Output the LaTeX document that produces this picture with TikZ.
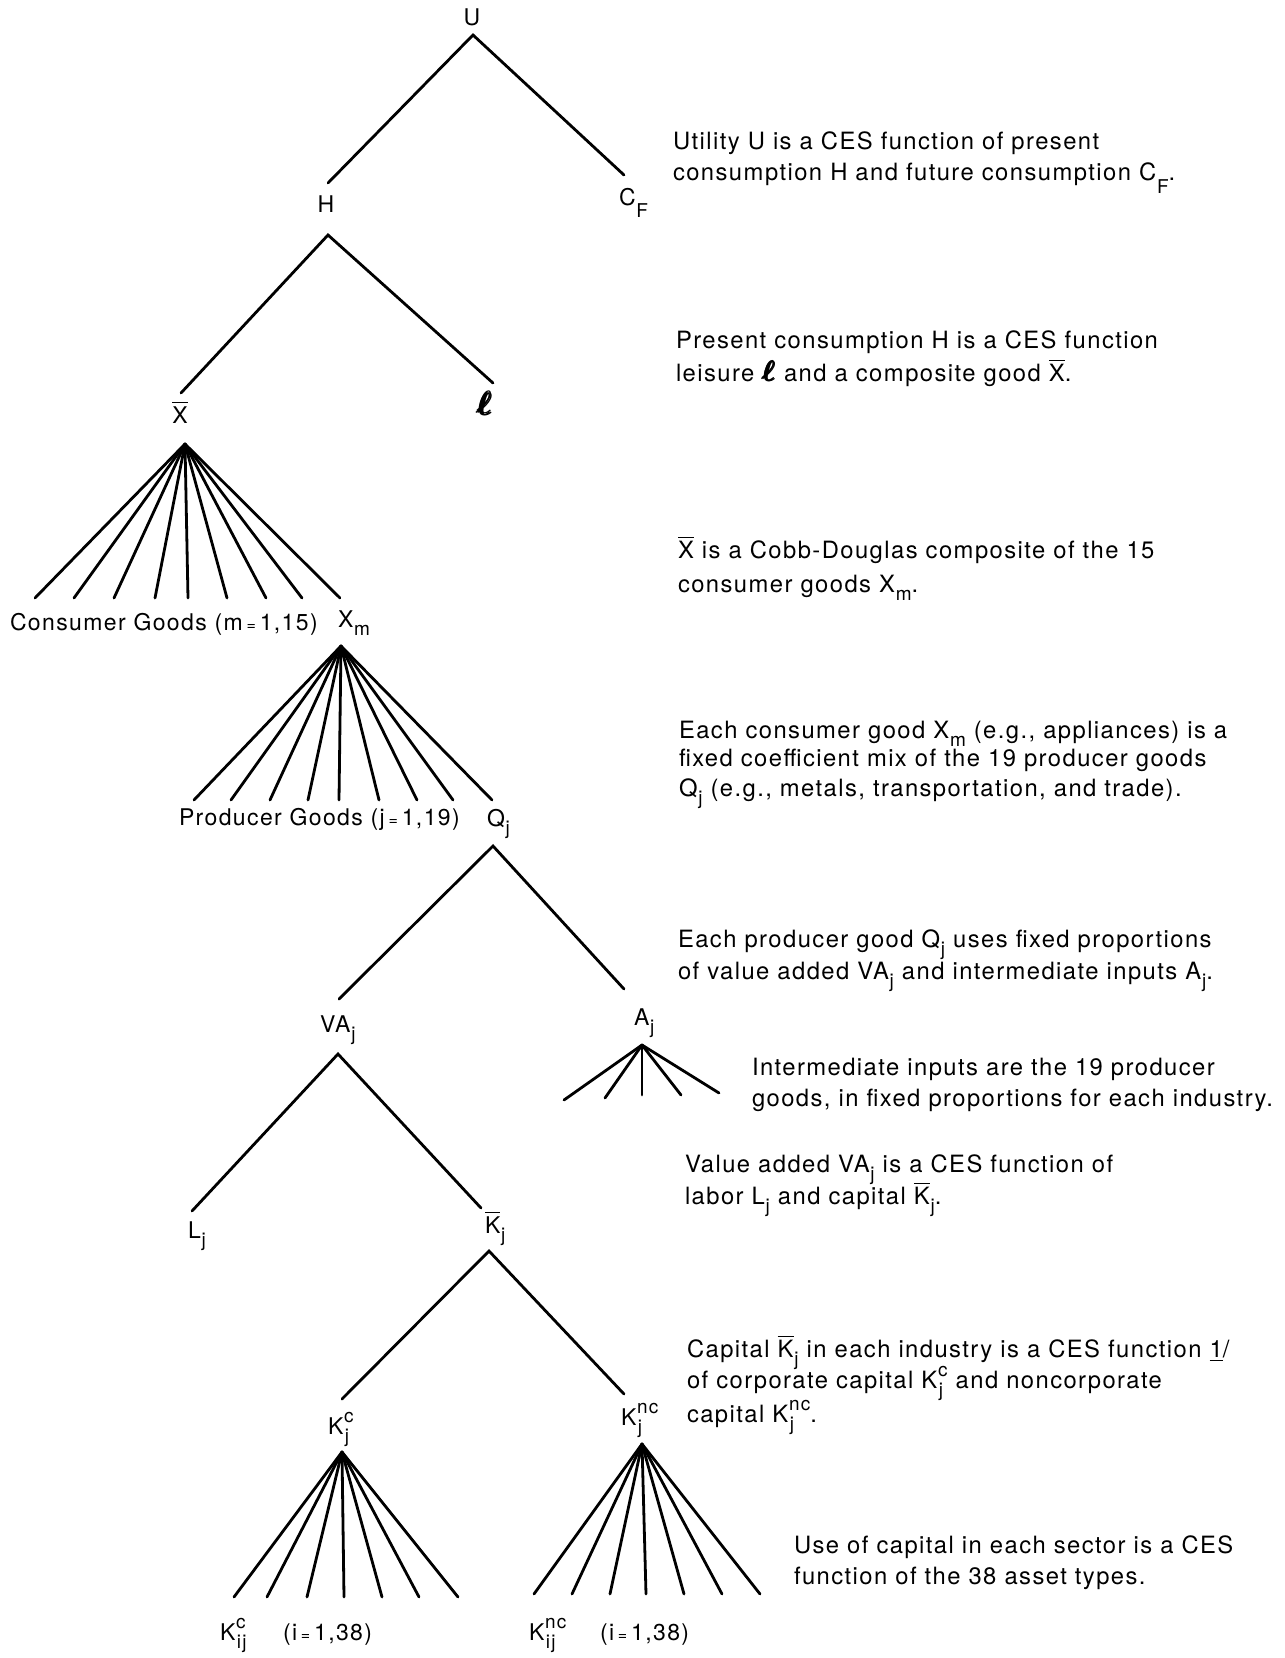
\documentclass[tikz,border=0pt]{standalone}
\usepackage{amsmath}
\usepackage{graphicx}
\usepackage{fontspec}
\setmainfont{TeX Gyre Heros}[LetterSpace=6.0]
\newsavebox\SupBox \newsavebox\SubBox \newlength\SSlen
\newcommand\fs{\fontsize{23}{31.5}\selectfont}
\newcommand\fp{\fontsize{23.8}{31.5}\selectfont}
\newcommand\subsz{\fontsize{19}{19}\selectfont}
\newcommand\sub[1]{\kern0.8pt\raisebox{-0.36em}{\subsz #1}}
\newcommand\subl[1]{\kern0.8pt\raisebox{-0.55em}{\subsz #1}}
\newcommand\supr[1]{\raisebox{0.5em}{\subsz #1}}
\newcommand\SupSub[2]{\kern0.8pt\sbox\SupBox{\supr{#1}}\sbox\SubBox{\sub{#2}}\setlength\SSlen{\wd\SupBox}\ifdim\wd\SubBox>\SSlen\setlength\SSlen{\wd\SubBox}\fi\rlap{\usebox\SupBox}\rlap{\usebox\SubBox}\hspace*{\SSlen}}
\newcommand\ovl[1]{$\overline{\hbox{#1}}$}
\newcommand\lell{\scalebox{1.3}{\fontsize{24.88}{24.88}\selectfont\boldmath$\pmb{\ell}$}}
\newcommand\lellt{\scalebox{1.15}{\fontsize{24.88}{24.88}\selectfont\boldmath$\pmb{\ell}$}}
\newcommand\eqs{\,{\fontsize{16}{16}\selectfont =}\,}
\tikzset{
  txt/.style={inner sep=0pt, outer sep=0pt, anchor=base west, font=\fp},
  lbl/.style={inner sep=0pt, outer sep=0pt, font=\fs},
  edge/.style={line width=2.8pt, line cap=round}
}
\begin{document}
\begin{tikzpicture}[x=1pt,y=-1pt]
\fill[white] (0,0) rectangle (1285,1658);
\useasboundingbox (0,0) rectangle (1285,1658);

% ---------- tree labels ----------
\node[lbl, anchor=base] (U) at (472,25) {U};
\node[lbl, anchor=base] (H) at (326,212) {H};
\node[lbl, anchor=base west] (CF) at (619,205) {C\subl{F}};
\node[lbl, anchor=base] (Xbar) at (180,423) {\ovl{X}};
\node[lbl, anchor=base] (ell) at (485,415) {\lell};
\node[lbl, anchor=base west] (cons) at (10,630) {Consumer Goods (m\eqs 1,15)};
\node[lbl, anchor=base west] (Xm) at (338,627) {X\sub{m}};
\node[lbl, anchor=base west] (prod) at (179,825) {Producer Goods (j\eqs 1,19)};
\node[lbl, anchor=base west] (Qj) at (487,826) {Q\sub{j}};
\node[lbl, anchor=base west] (VAj) at (320,1032) {VA\sub{j}};
\node[lbl, anchor=base west] (Aj) at (634,1025) {A\sub{j}};
\node[lbl, anchor=base west] (Lj) at (188,1238) {L\sub{j}};
\node[lbl, anchor=base west] (Kbarj) at (485,1233) {\ovl{K}\sub{j}};
\node[lbl, anchor=base west] (Kcj) at (328,1434) {K\SupSub{c}{j}};
\node[lbl, anchor=base west] (Kncj) at (621,1425) {K\SupSub{nc}{j}};
\node[lbl, anchor=base west] (Kcij) at (220,1640) {K\SupSub{c}{ij}};
\node[lbl, anchor=base west] (rng1) at (283,1640) {(i\eqs 1,38)};
\node[lbl, anchor=base west] (Kncij) at (529,1640) {K\SupSub{nc}{ij}};
\node[lbl, anchor=base west] (rng2) at (600,1640) {(i\eqs 1,38)};

% ---------- connector points ----------
\coordinate (Uapex) at (473,35);
\coordinate (Htop) at (328,183);
\coordinate (CFtop) at (624,175);
\coordinate (Hapex) at (328,235);
\coordinate (Xtop) at (181,393);
\coordinate (elltop) at (493,383);
\coordinate (Xapex) at (185,444);
\coordinate (Xmapex) at (341,646);
\coordinate (Qapex) at (493,846);
\coordinate (VAtop) at (339,999);
\coordinate (Atop) at (624,989);
\coordinate (VAapex) at (338,1054);
\coordinate (Ltop) at (192,1211);
\coordinate (Kbtop) at (481,1208);
\coordinate (Aapex) at (642,1045);
\coordinate (Kbapex) at (489,1251);
\coordinate (Kctop) at (342,1399);
\coordinate (Knctop) at (624,1394);
\coordinate (Kcapex) at (342,1452);
\coordinate (Kncapex) at (642,1444);

% ---------- binary branches ----------
\draw[edge] (Htop) -- (Uapex) -- (CFtop);
\draw[edge] (Xtop) -- (Hapex) -- (elltop);
\draw[edge] (VAtop) -- (Qapex) -- (Atop);
\draw[edge] (Ltop) -- (VAapex) -- (Kbtop);
\draw[edge] (Kctop) -- (Kbapex) -- (Knctop);

% ---------- fans ----------
\foreach \x [count=\i] in {35,74,114,155,188,227,266,302,340}
  {\coordinate (xf\i) at (\x,598); \draw[edge] (Xapex) -- (xf\i);}
\foreach \x [count=\i] in {194,231,270,308,339,379,417,453,492}
  {\coordinate (qf\i) at (\x,800); \draw[edge] (Xmapex) -- (qf\i);}
\foreach \x/\y [count=\i] in {564/1100,605/1098,642/1095,681/1095,719/1093}
  {\coordinate (af\i) at (\x,\y); \draw[edge] (Aapex) -- (af\i);}
\foreach \x [count=\i] in {234,267,307,344,382,419,458}
  {\coordinate (kcf\i) at (\x,1597); \draw[edge] (Kcapex) -- (kcf\i);}
\foreach \x [count=\i] in {534,572,610,646,684,722,760}
  {\coordinate (kncf\i) at (\x,1594); \draw[edge] (Kncapex) -- (kncf\i);}

% ---------- explanatory texts ----------
\node[txt] (t1a) at (673,149) {Utility U is a CES function of present};
\node[txt] (t1b) at (673,180.5) {consumption H and future consumption C\subl{F}.};
\node[txt] (t2a) at (676,348.5) {Present consumption H is a CES function};
\node[txt] (t2b) at (676,381) {leisure \lellt{} and a composite good \ovl{X}.};
\node[txt] (t3a) at (678,558) {\ovl{X} is a Cobb-Douglas composite of the 15};
\node[txt] (t3b) at (678,592) {consumer goods X\sub{m}.};
\node[txt] (t4a) at (679,738) {Each consumer good X\sub{m} (e.g., appliances) is a};
\node[txt] (t4b) at (679,766) {fixed coefficient mix of the 19 producer goods};
\node[txt] (t4c) at (679,796) {Q\sub{j} (e.g., metals, transportation, and trade).};
\node[txt] (t5a) at (678,947) {Each producer good Q\sub{j} uses fixed proportions};
\node[txt] (t5b) at (678,979) {of value added VA\sub{j} and intermediate inputs A\sub{j}.};
\node[txt] (t6a) at (752,1075) {Intermediate inputs are the 19 producer};
\node[txt] (t6b) at (752,1106) {goods, in fixed proportions for each industry.};
\node[txt] (t7a) at (685,1172) {Value added VA\sub{j} is a CES function of};
\node[txt] (t7b) at (685,1204) {labor L\sub{j} and capital \ovl{K}\sub{j}.};
\node[txt] (t8a) at (687,1357) {Capital \ovl{K}\sub{j} in each industry is a CES function \underline{1}/};
\node[txt] (t8b) at (687,1388) {of corporate capital K\SupSub{c}{j} and noncorporate};
\node[txt] (t8c) at (687,1422) {capital K\SupSub{nc}{j}.};
\node[txt] (t9a) at (794,1553) {Use of capital in each sector is a CES};
\node[txt] (t9b) at (794,1584) {function of the 38 asset types.};
\end{tikzpicture}
\end{document}
